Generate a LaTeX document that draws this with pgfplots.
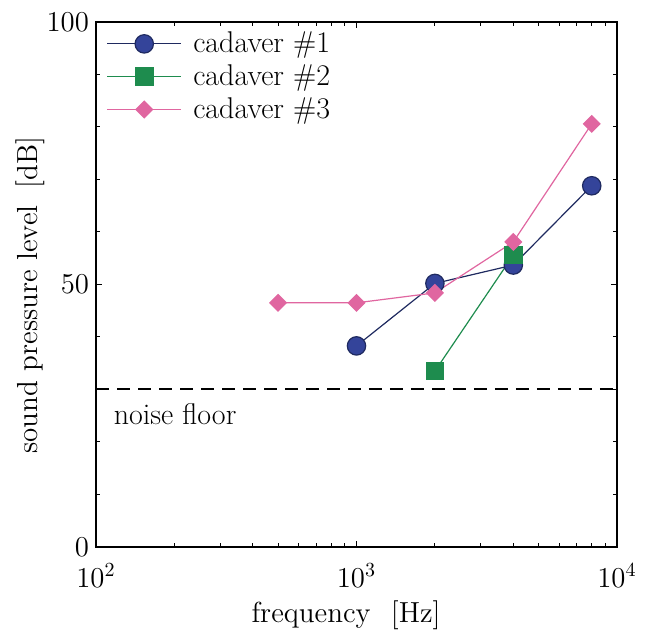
\documentclass[border=0pt]{standalone}
\usepackage{pgfplots}
\pgfplotsset{compat=1.18}
\definecolor{c1fill}{HTML}{34449A}
\definecolor{c1line}{HTML}{1F2A60}
\definecolor{c2}{HTML}{1E8C4E}
\definecolor{c3}{HTML}{E066A0}
\begin{document}
\begin{tikzpicture}
\begin{axis}[
  scale only axis,
  width=260.5pt, height=262.5pt,
  xmode=log, xmin=100, xmax=10000,
  ymin=0, ymax=100,
  ytick={0,50,100},
  minor ytick={10,20,30,40,60,70,80,90},
  tick align=inside,
  major tick length=3pt,
  minor tick length=2pt,
  xtick={100,1000,10000},
  xticklabels={$10^2$,$10^3$,$10^4$},
  xticklabel style={yshift=-5pt},
  every tick label/.append style={font=\fontsize{14}{16}\selectfont},
  label style={font=\fontsize{14.5}{16}\selectfont},
  xlabel={frequency\hspace{0.7em}[Hz]},
  ylabel={sound pressure level\hspace{0.6em}[dB]},
  xlabel style={at={(rel axis cs:0.48,-0.131)}, anchor=center},
  ylabel style={at={(rel axis cs:-0.127,0.48)}, anchor=center},
  axis line style={line width=0.6pt},
  every tick/.style={black, line width=0.5pt},
  clip=false,
  legend cell align=left,
  legend style={at={(0.012,0.997)}, anchor=north west, draw=none, fill=none,
    font=\fontsize{15}{17}\selectfont, row sep=0.5pt, inner sep=2pt},
  legend image code/.code={\path[draw=none,fill=none] (0pt,0pt) -- (41pt,0pt);\draw[mark repeat=2,mark phase=2] plot coordinates {(0pt,0pt) (18.5pt,0pt) (37pt,0pt)};},
]
\addplot[color=c1line, line width=0.6pt, mark=*, mark size=4.6pt, mark options={fill=c1fill, draw=c1line}]
  coordinates {(1000,38.3) (2000,50.2) (4000,53.7) (8000,68.8)};
\addlegendentry{cadaver \#1}
\addplot[color=c2, line width=0.6pt, mark=square*, mark size=4.4pt, mark options={fill=c2, draw=c2}]
  coordinates {(2000,33.5) (4000,55.6)};
\addlegendentry{cadaver \#2}
\addplot[color=c3, line width=0.6pt, mark=square*, mark size=2.9pt, mark options={fill=c3, draw=c3, rotate=45}]
  coordinates {(500,46.5) (1000,46.5) (2000,48.4) (4000,58.1) (8000,80.6)};
\addlegendentry{cadaver \#3}
\addplot[black, line width=1.1pt, dash pattern=on 6.5pt off 4pt, forget plot]
  coordinates {(100,30.1) (10000,30.1)};
\node[anchor=west, font=\fontsize{15}{17}\selectfont] at (axis cs:110,25.3) {noise floor};
\path (rel axis cs:-0.1843,-0.1524) rectangle (rel axis cs:1.0653,1.0419);
\end{axis}
\end{tikzpicture}
\end{document}
